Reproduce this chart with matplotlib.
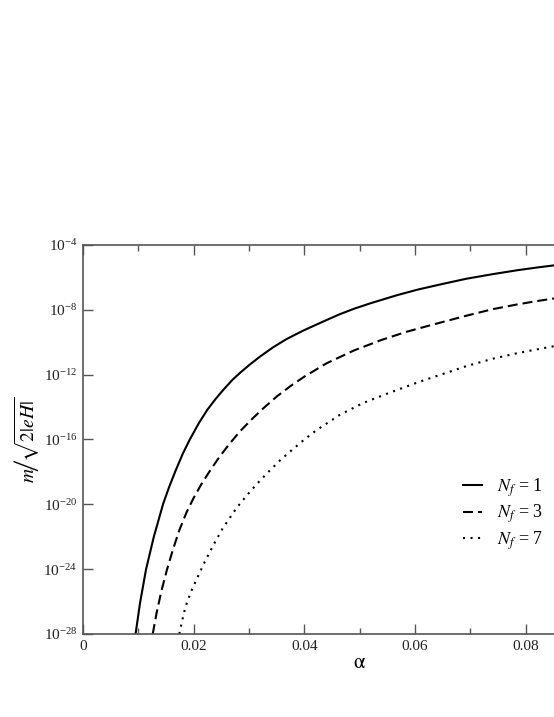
import numpy as np
import matplotlib
matplotlib.use("Agg")
import matplotlib.pyplot as plt
from matplotlib.ticker import FixedLocator, LogFormatterMathtext, MultipleLocator

# values (alpha, log10 of m/sqrt(2|eH|))
alpha_nf1 = [0.0095, 0.0103, 0.0114, 0.0128, 0.0145, 0.0156, 0.0167, 0.0180, 0.0193, 0.0210,
             0.0225, 0.0240, 0.0254, 0.0270, 0.0284, 0.0302, 0.0320, 0.0344, 0.0368, 0.0398,
             0.0416, 0.0440, 0.0464, 0.0490, 0.0519, 0.0567, 0.0605, 0.0650, 0.0693, 0.0740,
             0.0784, 0.0820, 0.0855]
log_nf1 = [-28.0, -26.1, -24.0, -22.0, -19.95, -18.9, -17.95, -16.9, -16.0, -14.95,
           -14.15, -13.48, -12.92, -12.32, -11.88, -11.36, -10.88, -10.3, -9.8, -9.28,
           -9.0, -8.63, -8.27, -7.93, -7.6, -7.1, -6.75, -6.4, -6.08, -5.8,
           -5.56, -5.39, -5.24]

alpha_nf3 = [0.0126, 0.0133, 0.0142, 0.0152, 0.0162, 0.0174, 0.0187, 0.0200, 0.0214, 0.0230,
             0.0245, 0.0265, 0.0285, 0.0305, 0.0325, 0.0350, 0.0375, 0.0400, 0.0440, 0.0490,
             0.0540, 0.0585, 0.0630, 0.0693, 0.0740, 0.0784, 0.0820, 0.0855]
log_nf3 = [-28.0, -26.7, -25.3, -24.0, -22.85, -21.6, -20.5, -19.6, -18.75, -17.9,
           -17.15, -16.25, -15.45, -14.75, -14.1, -13.35, -12.7, -12.12, -11.3, -10.5,
           -9.85, -9.35, -8.93, -8.36, -7.96, -7.67, -7.46, -7.28]

alpha_nf7 = [0.0174, 0.0179, 0.0185, 0.0195, 0.0207, 0.0220, 0.0235, 0.0253, 0.0278, 0.0296,
             0.0314, 0.0335, 0.0355, 0.0375, 0.0400, 0.0422, 0.0464, 0.0506, 0.0555, 0.0603,
             0.0633, 0.0657, 0.0693, 0.0740, 0.0784, 0.0820, 0.0855]
log_nf7 = [-28.0, -27.2, -26.35, -25.4, -24.5, -23.55, -22.55, -21.45, -20.2, -19.45,
           -18.75, -18.0, -17.32, -16.72, -16.0, -15.42, -14.48, -13.75, -13.1, -12.5,
           -12.15, -11.88, -11.47, -11.02, -10.68, -10.44, -10.22]

labels = ["$N_f$ = 1", "$N_f$ = 3", "$N_f$ = 7"]
x_ticks = [0, 0.02, 0.04, 0.06, 0.08, 0.1]
x_ticklabels = ["0", "0.02", "0.04", "0.06", "0.08", ""]
y_ticks = [1e-28, 1e-24, 1e-20, 1e-16, 1e-12, 1e-8, 1e-4]

plt.rcParams["font.family"] = ["Liberation Serif", "DejaVu Serif"]
plt.rcParams["mathtext.fontset"] = "stix"

fig = plt.figure(figsize=(5.54, 7.17), dpi=100)
# the right part of the frame runs past the edge of the picture
ax = fig.add_axes([0.1498, 0.1158, 0.9991, 0.5425])

ax.plot(alpha_nf1, 10.0 ** np.array(log_nf1), color="black", lw=1.5, ls="-", label=labels[0])
ax.plot(alpha_nf3, 10.0 ** np.array(log_nf3), color="black", lw=1.5, ls=(0, (4.8, 2.4)), label=labels[1])
ax.plot(alpha_nf7, 10.0 ** np.array(log_nf7), color="black", lw=1.5, ls=(0, (1, 2.6)), label=labels[2])

ax.set_yscale("log")
ax.set_xlim(0, 0.1)
ax.set_ylim(1e-28, 1e-4)

ax.xaxis.set_ticks(x_ticks)
ax.set_xticklabels(x_ticklabels)
ax.xaxis.set_minor_locator(MultipleLocator(0.01))
ax.yaxis.set_major_locator(FixedLocator(y_ticks))
ax.yaxis.set_minor_locator(FixedLocator([]))
ax.yaxis.set_major_formatter(LogFormatterMathtext())

spine_col = "#555555"
for s in ax.spines.values():
    s.set_color(spine_col)
    s.set_linewidth(1.2)
ax.tick_params(which="both", direction="in", top=True, right=True, color=spine_col, width=1.0,
               labelsize=11, labelcolor="#222222")
ax.tick_params(which="major", length=7)
ax.tick_params(which="minor", length=4)
ax.tick_params(axis="x", pad=4)
ax.tick_params(axis="y", pad=4)

ax.set_xlabel(r"$\mathrm{\alpha}$", fontsize=15)
ax.set_ylabel(r"$m\!\left/\!\sqrt{2|eH|}\right.$", fontsize=14)
ax.yaxis.set_label_coords(-0.0745, 0.5)
ax.xaxis.set_label_coords(0.5, -0.052)

leg = ax.legend(loc="upper left", bbox_to_anchor=(0.835, 0.336), bbox_transform=fig.transFigure,
                frameon=False, fontsize=13, handlelength=1.1, handletextpad=0.8,
                labelspacing=0.22, borderpad=0, borderaxespad=0)

fig.savefig("out.png", dpi=100)
